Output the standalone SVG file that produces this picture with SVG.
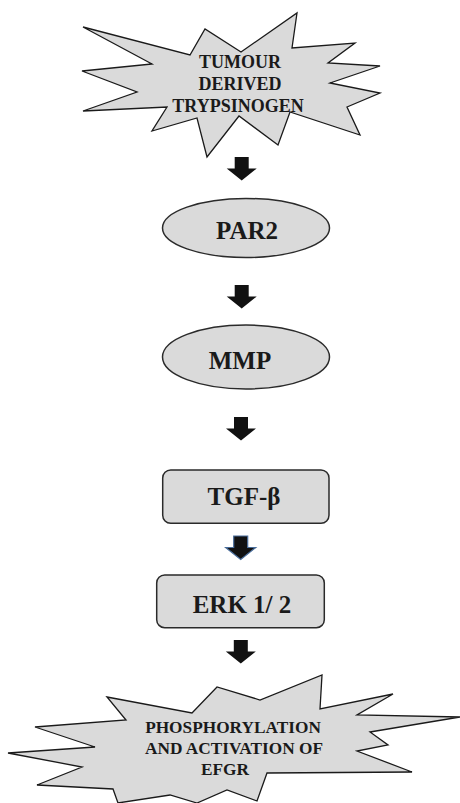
<svg xmlns="http://www.w3.org/2000/svg" width="460" height="803" viewBox="0 0 460 803">
<style>
.shape{fill:#dadada;stroke:#1a1a1a;stroke-width:1.3;stroke-linejoin:miter}
.box{fill:#dadada;stroke:#2a2a2a;stroke-width:1.5}
text{font-family:'Liberation Serif','Times New Roman',Times,serif;font-weight:700;fill:#1a1a1a;text-anchor:middle}
.arr{fill:#111}
.arr-blue{fill:#111;stroke:#4a6d9a;stroke-width:1.2}
</style>
<defs>
<path id="blk" d="M-7,0 H7 V11.5 H15 L0,23.5 L-15,11.5 H-7 Z"/>
</defs>
<rect width="460" height="803" fill="#ffffff"/>
<g id="trypsinogen">
<polygon class="shape" points="83,27 190,55 205,29 241,52 297,13 292,48 355,43 328,63 380,66 330,83 380,93 347,107 360,135 290,112 278,145 239,116 207,157 197,118 152,131 167,107 83,111 137,92 82,71 152,64"/>
<text font-size="18" x="240" y="68">TUMOUR</text>
<text font-size="18" x="240" y="90">DERIVED</text>
<text font-size="18" x="238" y="112">TRYPSINOGEN</text>
</g>
<g id="par2">
<ellipse class="box" cx="246" cy="228" rx="83.5" ry="29.5"/>
<text font-size="25" x="247" y="239">PAR2</text>
</g>
<g id="mmp">
<ellipse class="box" cx="246" cy="357" rx="83.5" ry="32"/>
<text font-size="25" x="240" y="369">MMP</text>
</g>
<g id="tgfb">
<rect class="box" x="162.7" y="470" width="166.3" height="53.3" rx="8"/>
<text font-size="25" x="244" y="505">TGF-β</text>
</g>
<g id="erk">
<rect class="box" x="156.7" y="575" width="167.6" height="52.7" rx="8"/>
<text font-size="25" x="242" y="613">ERK 1/ 2</text>
</g>
<g id="egfr">
<polygon class="shape" points="107,697 192,713 217,687 260,700 322,675 320,709 393,694 357,715 460,717 370,732 388,745 357,751 412,772 267,773 257,801 227,790 197,803 170,795 118,803 113,789 37,785 82,767 8,753 95,747 35,727 126,720"/>
<text font-size="17.3" x="233" y="732.5">PHOSPHORYLATION</text>
<text font-size="17.3" x="234" y="753.5">AND ACTIVATION OF</text>
<text font-size="17.3" x="225" y="775">EFGR</text>
</g>
<g id="connectors">
<use href="#blk" class="arr" transform="translate(241.7,157)"/>
<use href="#blk" class="arr" transform="translate(241.7,285)"/>
<use href="#blk" class="arr" transform="translate(241,417)"/>
<use href="#blk" class="arr-blue" transform="translate(240.7,536)"/>
<use href="#blk" class="arr" transform="translate(240.8,640)"/>
</g>
</svg>
